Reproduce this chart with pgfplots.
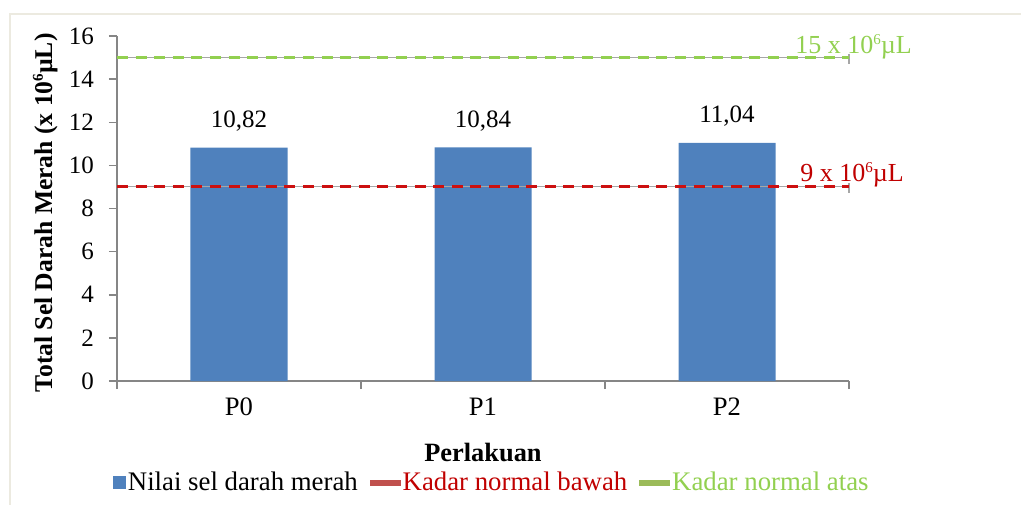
\documentclass[border=0pt]{standalone}
\usepackage{pgfplots}
\pgfplotsset{compat=1.18}
\usepackage{fontspec}
\setmainfont{Liberation Serif}
\setsansfont{Liberation Serif}
\definecolor{barblue}{HTML}{4F81BD}
\definecolor{lred}{HTML}{CC1010}
\definecolor{lgreen}{HTML}{92D050}
\definecolor{tred}{HTML}{C00000}
\definecolor{legred}{HTML}{C0504D}
\definecolor{leggreen}{HTML}{9BBB59}
\definecolor{axgray}{HTML}{868686}
\definecolor{bord}{HTML}{ECEAE0}
\newcommand\supsix{\raisebox{0.36em}{\fontsize{7.5}{8}\selectfont 6}}
\begin{document}
\begin{tikzpicture}
\useasboundingbox (0,0) rectangle (510.5pt,-252pt);
\draw[bord, line width=1pt] (5pt,-7pt) rectangle (520pt,-260pt);
\begin{axis}[
  at={(58.5pt,-190.5pt)}, anchor=south west,
  scale only axis, width=366pt, height=172.5pt,
  xmin=-0.5, xmax=2.5, ymin=0, ymax=16,
  axis lines*=left,
  axis line style={axgray, line width=0.75pt, -},
  tick style={axgray, line width=0.75pt},
  tick align=outside,
  major tick length=4pt,
  xtick={-0.5,0.5,1.5,2.5}, xticklabels={},
  extra x ticks={0,1,2}, extra x tick labels={P0,P1,P2},
  extra x tick style={major tick length=0pt, tick label style={yshift=-5pt, font=\rmfamily\fontsize{13.3}{15}\selectfont}},
  ytick={0,2,...,16},
  /pgf/number format/assume math mode=true,
  tick label style={font=\rmfamily\fontsize{12.5}{14}\selectfont, black},
  yticklabel style={xshift=-4pt},
  xlabel={\textbf{Perlakuan}},
  xlabel style={at={(axis description cs:0.5,-0.206)}, anchor=center, font=\rmfamily\fontsize{13.2}{15}\selectfont},
  ylabel={\textbf{Total Sel Darah Merah (x 10\supsix µL)}},
  ylabel style={at={(axis description cs:-0.098,0.487)}, anchor=center, rotate=0, font=\rmfamily\fontsize{12.8}{14}\selectfont},
  legend style={at={(axis description cs:0.512,-0.295)}, anchor=center, draw=none, fill=none,
    font=\rmfamily\fontsize{13.4}{15}\selectfont, inner sep=0pt,
    nodes={inner sep=1pt},
    /tikz/every even column/.append style={column sep=5pt}},
  legend columns=3,
  clip=false,
]
\addplot[ybar, bar width=48.5pt, fill=barblue, draw=none,
  nodes near coords,
  nodes near coords style={font=\rmfamily\fontsize{12.5}{14}\selectfont, black, anchor=base, inner sep=0pt, yshift=10pt,
    /pgf/number format/.cd, fixed, precision=2, fixed zerofill, use comma, assume math mode=true},
  legend image code/.code={\fill[barblue] (0pt,-3.25pt) rectangle (6.5pt,3.25pt);}]
  coordinates {(0,10.82) (1,10.84) (2,11.04)};
\addlegendentry{Nilai sel darah merah}
\addlegendimage{legend image code/.code={\fill[legred] (0pt,-1.3pt) rectangle (15pt,1.3pt);}}
\addlegendentry{\textcolor{tred}{Kadar normal bawah}}
\addlegendimage{legend image code/.code={\fill[leggreen] (0pt,-1.3pt) rectangle (15pt,1.3pt);}}
\addlegendentry{\textcolor{lgreen}{Kadar normal atas}}
% reference lines
\addplot[forget plot, gray!70, line width=0.5pt] coordinates {(-0.5,9) (2.5,9)};
\addplot[forget plot, gray!70, line width=0.6pt] coordinates {(2.5,9.18) (2.5,8.72)};
\addplot[forget plot, lred, line width=1.5pt, dash pattern=on 5.5pt off 3.8pt] coordinates {(-0.5,9) (2.5,9)};
\addplot[forget plot, gray!70, line width=0.5pt] coordinates {(-0.5,15) (2.5,15)};
\addplot[forget plot, gray!70, line width=0.6pt] coordinates {(2.5,15.18) (2.5,14.72)};
\addplot[forget plot, lgreen, line width=1.5pt, dash pattern=on 5.5pt off 3.8pt] coordinates {(-0.5,15) (2.5,15)};
\node[anchor=base west, text=lgreen, font=\rmfamily\fontsize{13}{15}\selectfont, inner sep=0pt] at (axis cs:2.279,15) [yshift=1.8pt] {15 x 10\supsix µL};
\node[anchor=base west, text=tred, font=\rmfamily\fontsize{13}{15}\selectfont, inner sep=0pt] at (axis cs:2.299,9) [yshift=2.5pt] {9 x 10\supsix µL};
\end{axis}
\end{tikzpicture}
\end{document}
